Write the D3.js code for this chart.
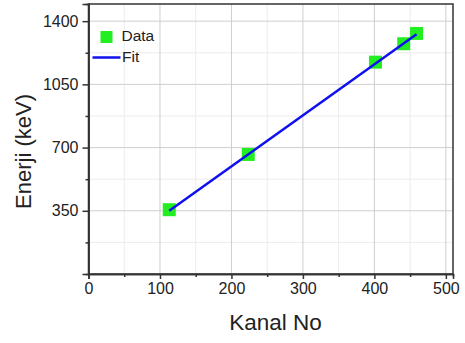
<!DOCTYPE html>
<html><head><meta charset="utf-8">
<script src="https://cdn.jsdelivr.net/npm/d3@7"></script>
<style>body{margin:0;background:#fff}svg{display:block}text{font-family:"Liberation Sans",Arial,sans-serif;fill:#222}</style>
</head><body>
<svg id="c" width="465" height="343"></svg>
<script>
const dataX = [113, 223.5, 401.5, 441, 459];
const dataY = [356, 662, 1173, 1275, 1332];
const fitX = [113, 459];
const fitY = [350, 1328];
const xTicks = [0, 100, 200, 300, 400, 500];
const xMinor = [50, 150, 250, 350, 450];
const yTicks = [350, 700, 1050, 1400];
const yMinor = [175, 525, 875, 1225];
const legendLabels = ["Data", "Fit"];

const svg = d3.select("#c");
const x = d3.scaleLinear().domain([0, 510]).range([88.5, 453]);
const y = d3.scaleLinear().domain([0, 1495]).range([274, 4]);
const [x0, x1] = x.range(), [y0, y1] = y.range();

// grid
const g = svg.append("g");
g.selectAll(".vmin").data(xMinor).join("line").attr("x1", d=>x(d)).attr("x2", d=>x(d)).attr("y1", y0).attr("y2", y1).attr("stroke", "#ececec").attr("stroke-width", 1);
g.selectAll(".hmin").data(yMinor).join("line").attr("y1", d=>y(d)).attr("y2", d=>y(d)).attr("x1", x0).attr("x2", x1).attr("stroke", "#ececec").attr("stroke-width", 1);
g.selectAll(".vmaj").data(xTicks.slice(1)).join("line").attr("x1", d=>x(d)).attr("x2", d=>x(d)).attr("y1", y0).attr("y2", y1).attr("stroke", "#cfcfcf").attr("stroke-width", 1);
g.selectAll(".hmaj").data(yTicks).join("line").attr("y1", d=>y(d)).attr("y2", d=>y(d)).attr("x1", x0).attr("x2", x1).attr("stroke", "#cfcfcf").attr("stroke-width", 1);

// frame
svg.append("rect").attr("x", x0).attr("y", y1).attr("width", x1-x0).attr("height", y0-y1).attr("fill","none").attr("stroke","#333").attr("stroke-width",1.5);

// axes
svg.append("g").attr("transform", `translate(0,${y0})`)
  .call(d3.axisBottom(x).tickValues(xTicks).tickSize(5).tickPadding(4).tickFormat(d3.format("d")));
svg.append("g").attr("transform", `translate(0,${y0})`)
  .call(d3.axisBottom(x).tickValues(xMinor).tickSize(3).tickFormat(""));
svg.append("g").attr("transform", `translate(${x0},0)`)
  .call(d3.axisLeft(y).tickValues(yTicks).tickSize(6).tickPadding(4).tickFormat(d3.format("d")));
svg.append("g").attr("transform", `translate(${x0},0)`)
  .call(d3.axisLeft(y).tickValues(yMinor).tickSize(3).tickFormat(""));
svg.selectAll(".domain").attr("stroke","#333").attr("stroke-width",1.5);
svg.selectAll(".tick line").attr("stroke","#333").attr("stroke-width",1.5);
svg.selectAll(".tick text").attr("font-size", 16).attr("fill","#222").attr("font-family","Liberation Sans, Arial, sans-serif");

// data squares
const s = 13;
svg.selectAll(".pt").data(dataX.map((d,i)=>[d, dataY[i]])).join("rect")
  .attr("x", d=>x(d[0])-s/2).attr("y", d=>y(d[1])-s/2).attr("width", s).attr("height", s)
  .attr("fill","#22ee22");
// fit line on top
svg.append("path").datum(fitX.map((d,i)=>[d, fitY[i]]))
  .attr("d", d3.line().x(d=>x(d[0])).y(d=>y(d[1])))
  .attr("fill","none").attr("stroke","#1010f0").attr("stroke-width",2.5);

// legend
svg.append("rect").attr("x", 100.5).attr("y", 31).attr("width", 12).attr("height", 12).attr("fill","#22ee22");
svg.append("text").attr("x", 121.5).attr("y", 41).attr("font-size", 15.5).text(legendLabels[0]);
svg.append("line").attr("x1", 92.5).attr("x2", 120.5).attr("y1", 57.5).attr("y2", 57.5).attr("stroke","#1010f0").attr("stroke-width",2.5);
svg.append("text").attr("x", 122).attr("y", 62).attr("font-size", 15.5).text(legendLabels[1]);

// axis titles
svg.append("text").attr("x", 275.5).attr("y", 330).attr("text-anchor","middle").attr("font-size", 22.5).text("Kanal No");
svg.append("text").attr("transform", `translate(31,151.5) rotate(-90)`).attr("text-anchor","middle").attr("font-size", 22).text("Enerji (keV)");
</script>
</body></html>
